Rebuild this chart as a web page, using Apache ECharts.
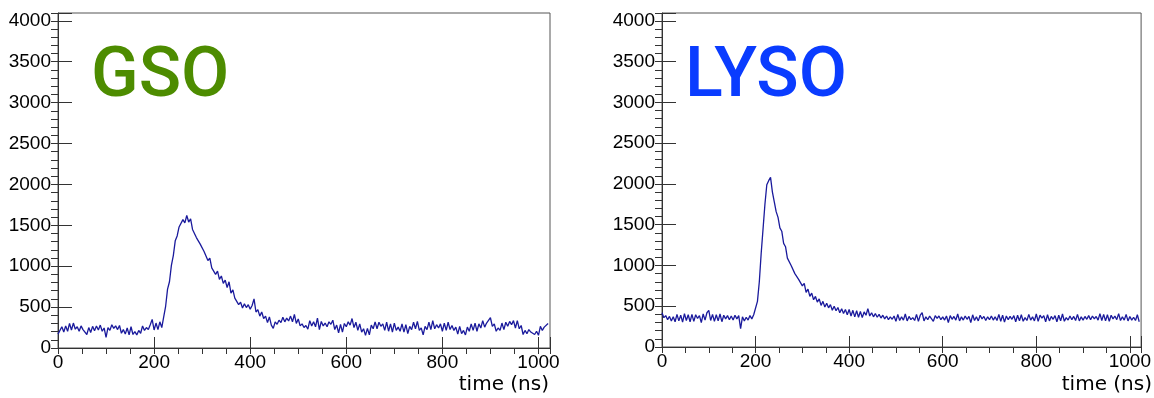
<!DOCTYPE html>
<html>
<head>
<meta charset="utf-8">
<script src="https://cdn.jsdelivr.net/npm/echarts@6/dist/echarts.min.js"></script>
<style>
html,body{margin:0;padding:0;background:#fff;}
#chart{width:1154px;height:398px;}
</style>
</head>
<body>
<div id="chart"></div>
<script>
// Time bins (ns), lower edge of each 4 ns bin
const TIME_NS = [
  0,4,8,12,16,20,24,28,32,36,40,44,48,52,56,60,
  64,68,72,76,80,84,88,92,96,100,104,108,112,116,120,124,
  128,132,136,140,144,148,152,156,160,164,168,172,176,180,184,188,
  192,196,200,204,208,212,216,220,224,228,232,236,240,244,248,252,
  256,260,264,268,272,276,280,284,288,292,296,300,304,308,312,316,
  320,324,328,332,336,340,344,348,352,356,360,364,368,372,376,380,
  384,388,392,396,400,404,408,412,416,420,424,428,432,436,440,444,
  448,452,456,460,464,468,472,476,480,484,488,492,496,500,504,508,
  512,516,520,524,528,532,536,540,544,548,552,556,560,564,568,572,
  576,580,584,588,592,596,600,604,608,612,616,620,624,628,632,636,
  640,644,648,652,656,660,664,668,672,676,680,684,688,692,696,700,
  704,708,712,716,720,724,728,732,736,740,744,748,752,756,760,764,
  768,772,776,780,784,788,792,796,800,804,808,812,816,820,824,828,
  832,836,840,844,848,852,856,860,864,868,872,876,880,884,888,892,
  896,900,904,908,912,916,920,924,928,932,936,940,944,948,952,956,
  960,964,968,972,976,980,984,988,992,996,1000,1004,1008,1012,1016,1020
];

// GSO pulse (ADC counts)
const GSO_COUNTS = [
  170,160,260,195,270,205,300,220,305,230,260,205,270,225,205,165,
  250,190,265,210,270,220,280,205,245,130,250,215,285,240,270,225,
  275,180,225,170,245,160,260,165,200,160,215,180,270,215,250,225,
  285,350,220,305,225,320,250,380,510,720,810,1010,1130,1310,1370,1480,
  1490,1570,1530,1620,1540,1580,1450,1440,1350,1370,1270,1260,1180,1170,1070,1100,
  980,1000,900,940,840,880,790,830,740,810,670,710,610,620,530,560,
  490,540,495,530,475,520,600,440,470,390,440,360,390,310,380,280,
  240,320,290,340,310,375,320,365,330,390,320,410,300,355,270,295,
  250,275,230,335,270,320,260,365,225,325,270,305,260,320,290,340,
  225,280,185,290,195,300,260,320,280,360,250,315,215,295,195,235,
  155,240,160,280,235,320,235,315,265,295,215,315,205,295,195,305,
  215,255,205,295,195,285,175,265,225,315,235,325,215,245,160,265,
  225,315,225,335,235,285,245,295,205,305,215,315,225,275,215,255,
  170,265,175,215,160,255,205,295,215,305,205,295,245,335,255,305,
  285,370,265,295,205,245,215,305,225,315,265,325,285,335,245,335,
  235,275,165,215,175,225,195,215,165,205,155,265,215,255,235,300
];

// LYSO pulse (ADC counts)
const LYSO_COUNTS = [
  420,360,385,335,375,320,370,310,400,320,390,305,410,325,395,310,
  400,315,395,350,385,300,405,330,420,450,325,400,315,395,320,405,
  310,390,345,385,335,380,330,390,345,385,225,370,320,365,330,385,
  345,395,410,560,800,1150,1450,1750,1990,2040,2080,1900,1780,1660,1590,1460,
  1420,1270,1230,1090,1100,1000,990,900,920,830,850,750,780,670,710,620,
  660,580,620,550,590,510,560,490,535,480,520,450,500,445,485,420,
  470,410,460,395,460,380,450,370,445,365,435,360,430,390,470,380,
  420,370,410,365,400,355,390,345,380,335,370,340,380,315,400,325,
  370,330,405,320,375,335,360,325,400,315,390,420,320,370,335,380,
  400,315,385,350,380,335,370,330,380,300,385,340,375,330,405,320,
  370,330,380,340,375,300,395,325,370,320,390,345,375,325,370,335,
  380,330,370,325,400,315,390,305,380,335,375,340,385,310,390,320,
  395,315,360,325,400,330,370,320,405,315,390,355,385,310,395,320,
  375,340,385,310,390,320,405,315,360,330,380,335,375,325,400,320,
  370,330,375,340,385,335,380,345,375,330,410,325,400,320,395,315,
  390,345,380,335,410,325,370,330,400,320,375,330,365,325,395,310
];

const X_MAX = 1024;
const Y_MAX = 4096;
const X_MAJOR = 200, X_MINOR = 50;
const Y_MAJOR = 500, Y_MINOR = 100;
const PANEL_LABELS = ['GSO', 'LYSO'];
const AXIS_TITLE = 'time (ns)';

const LINE_COLOR = '#1a1a9c';
const AXIS_COLOR = '#333';
const LABEL_FONT = '"Liberation Sans", Arial, Helvetica, sans-serif';

const grids = [
  {left: 58, top: 13, width: 492, height: 335},
  {left: 662, top: 13, width: 491, height: 334}
];

function mkXAxes(gi) {
  return [
    {
      type: 'value', gridIndex: gi, min: 0, max: X_MAX, interval: X_MAJOR,
      axisLine: {show: true, onZero: false, lineStyle: {color: AXIS_COLOR, width: 1}},
      axisTick: {show: true, inside: true, length: 11, lineStyle: {color: AXIS_COLOR}},
      axisLabel: {
        show: true, margin: 5, fontSize: 19, color: '#000', fontFamily: LABEL_FONT,
        hideOverlap: false,
        formatter: v => (v % X_MAJOR === 0 ? String(v) : '')
      },
      splitLine: {show: false}
    },
    {
      type: 'value', gridIndex: gi, min: 0, max: X_MAX, interval: X_MINOR,
      axisLine: {show: false},
      axisTick: {show: true, inside: true, length: 6, lineStyle: {color: AXIS_COLOR}},
      axisLabel: {show: false},
      splitLine: {show: false}
    }
  ];
}

function mkYAxes(gi) {
  return [
    {
      type: 'value', gridIndex: gi, min: 0, max: Y_MAX, interval: Y_MAJOR,
      axisLine: {show: true, onZero: false, lineStyle: {color: AXIS_COLOR, width: 1}},
      axisTick: {show: true, inside: true, length: 14, lineStyle: {color: AXIS_COLOR}},
      axisLabel: {
        show: true, margin: 7, fontSize: 19, color: '#000', fontFamily: LABEL_FONT,
        hideOverlap: false,
        formatter: v => (v % Y_MAJOR === 0 ? String(v) : '')
      },
      splitLine: {show: false}
    },
    {
      type: 'value', gridIndex: gi, min: 0, max: Y_MAX, interval: Y_MINOR,
      axisLine: {show: false},
      axisTick: {show: true, inside: true, length: 7, lineStyle: {color: AXIS_COLOR}},
      axisLabel: {show: false},
      splitLine: {show: false}
    }
  ];
}

const xAxes = [...mkXAxes(0), ...mkXAxes(1)];
const yAxes = [...mkYAxes(0), ...mkYAxes(1)];

function pairs(ys) { return TIME_NS.map((t, i) => [t, ys[i]]); }

const option = {
  animation: false,
  backgroundColor: '#fff',
  grid: grids.map(g => Object.assign({show: true, borderColor: '#555', borderWidth: 1, backgroundColor: 'transparent', containLabel: false}, g)),
  xAxis: xAxes,
  yAxis: yAxes,
  series: [
    {type: 'line', xAxisIndex: 0, yAxisIndex: 0, data: pairs(GSO_COUNTS), showSymbol: false, symbol: 'none',
     lineStyle: {color: LINE_COLOR, width: 1.3}, z: 3},
    {type: 'line', xAxisIndex: 2, yAxisIndex: 2, data: pairs(LYSO_COUNTS), showSymbol: false, symbol: 'none',
     lineStyle: {color: LINE_COLOR, width: 1.3}, z: 3}
  ],
  graphic: [
    {type: 'text', left: 91, top: 43, style: {text: PANEL_LABELS[0], fill: '#4d8c00',
      font: '500 70px Roboto, "Liberation Sans", sans-serif'}},
    {type: 'text', left: 685, top: 43, style: {text: PANEL_LABELS[1], fill: '#0a3cff',
      font: '500 70px Roboto, "Liberation Sans", sans-serif'}},
    {type: 'text', right: 1154 - 549, top: 375, style: {text: AXIS_TITLE, fill: '#000',
      font: '20px "DejaVu Sans", sans-serif'}},
    {type: 'text', right: 1154 - 1152, top: 375, style: {text: AXIS_TITLE, fill: '#000',
      font: '20px "DejaVu Sans", sans-serif'}}
  ]
};

const chart = echarts.init(document.getElementById('chart'), null, {renderer: 'canvas'});
chart.setOption(option);
</script>
</body>
</html>
